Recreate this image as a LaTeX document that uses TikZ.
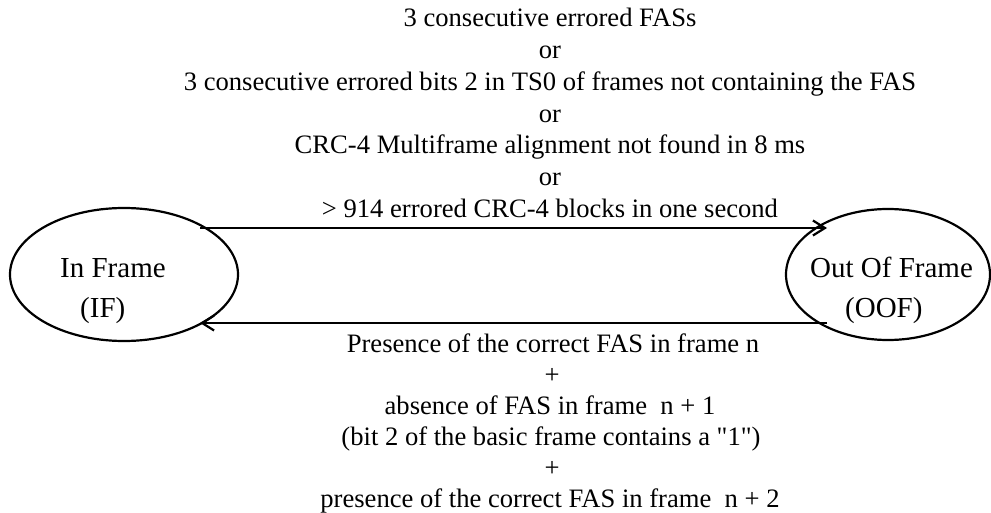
\documentclass[tikz,border=0pt]{standalone}
\usepackage{fontspec}
\setmainfont{Liberation Serif}[Ligatures=TeXOff]
\usetikzlibrary{arrows.meta,shapes.geometric}
\begin{document}
\begin{tikzpicture}[x=1pt,y=-1pt,
  stateshape/.style={draw,line width=2.2pt,ellipse,inner sep=0pt},
  lbl/.style={anchor=base,inner sep=0pt,font=\fontsize{26.6}{32}\selectfont},
  slbl/.style={anchor=base west,inner sep=0pt,font=\fontsize{29}{36}\selectfont},
  trans/.style={line width=2.6pt,-{Straight Barb[length=12pt,width=15pt,line width=2.2pt]}}]
\useasboundingbox (0,0) rectangle (991,513);
% states
\node[stateshape,minimum width=228pt,minimum height=133pt] (IF) at (124,274.5) {};
\node[stateshape,minimum width=204pt,minimum height=131pt] (OOF) at (888,274.5) {};
\node[slbl] (if1) at (60,277) {In Frame};
\node[slbl] (if2) at (80,317) {(IF)};
\node[slbl] (oof1) at (810,277) {Out Of Frame};
\node[slbl] (oof2) at (845,317) {(OOF)};
% transitions
\coordinate (t1s) at (200,228);
\coordinate (t1e) at (827,228);
\coordinate (t2s) at (827,323);
\coordinate (t2e) at (200,323);
\draw[trans] (t1s) -- (t1e);
\draw[trans] (t2s) -- (t2e);
% upper label
\node[lbl] (u1) at (550,27) {3 consecutive errored FASs};
\node[lbl] (u2) at (550,59) {or};
\node[lbl] (u3) at (550,91) {3 consecutive errored bits 2 in TS0 of frames not containing the FAS};
\node[lbl] (u4) at (550,122.5) {or};
\node[lbl] (u5) at (550,154) {CRC-4 Multiframe alignment not found in 8 ms};
\node[lbl] (u6) at (550,186) {or};
\node[lbl] (u7) at (550,218) {> 914 errored CRC-4 blocks in one second};
% lower label
\node[lbl] (l1) at (553,352) {Presence of the correct FAS in frame n};
\node[lbl] (l2) at (552,383) {+};
\node[lbl] (l3) at (550,414) {absence of FAS in frame\ \ n + 1};
\node[lbl] (l4) at (551,445) {(bit 2 of the basic frame contains a "1")};
\node[lbl] (l5) at (552,476) {+};
\node[lbl] (l6) at (550,507) {presence of the correct FAS in frame\ \ n + 2};
\end{tikzpicture}
\end{document}
